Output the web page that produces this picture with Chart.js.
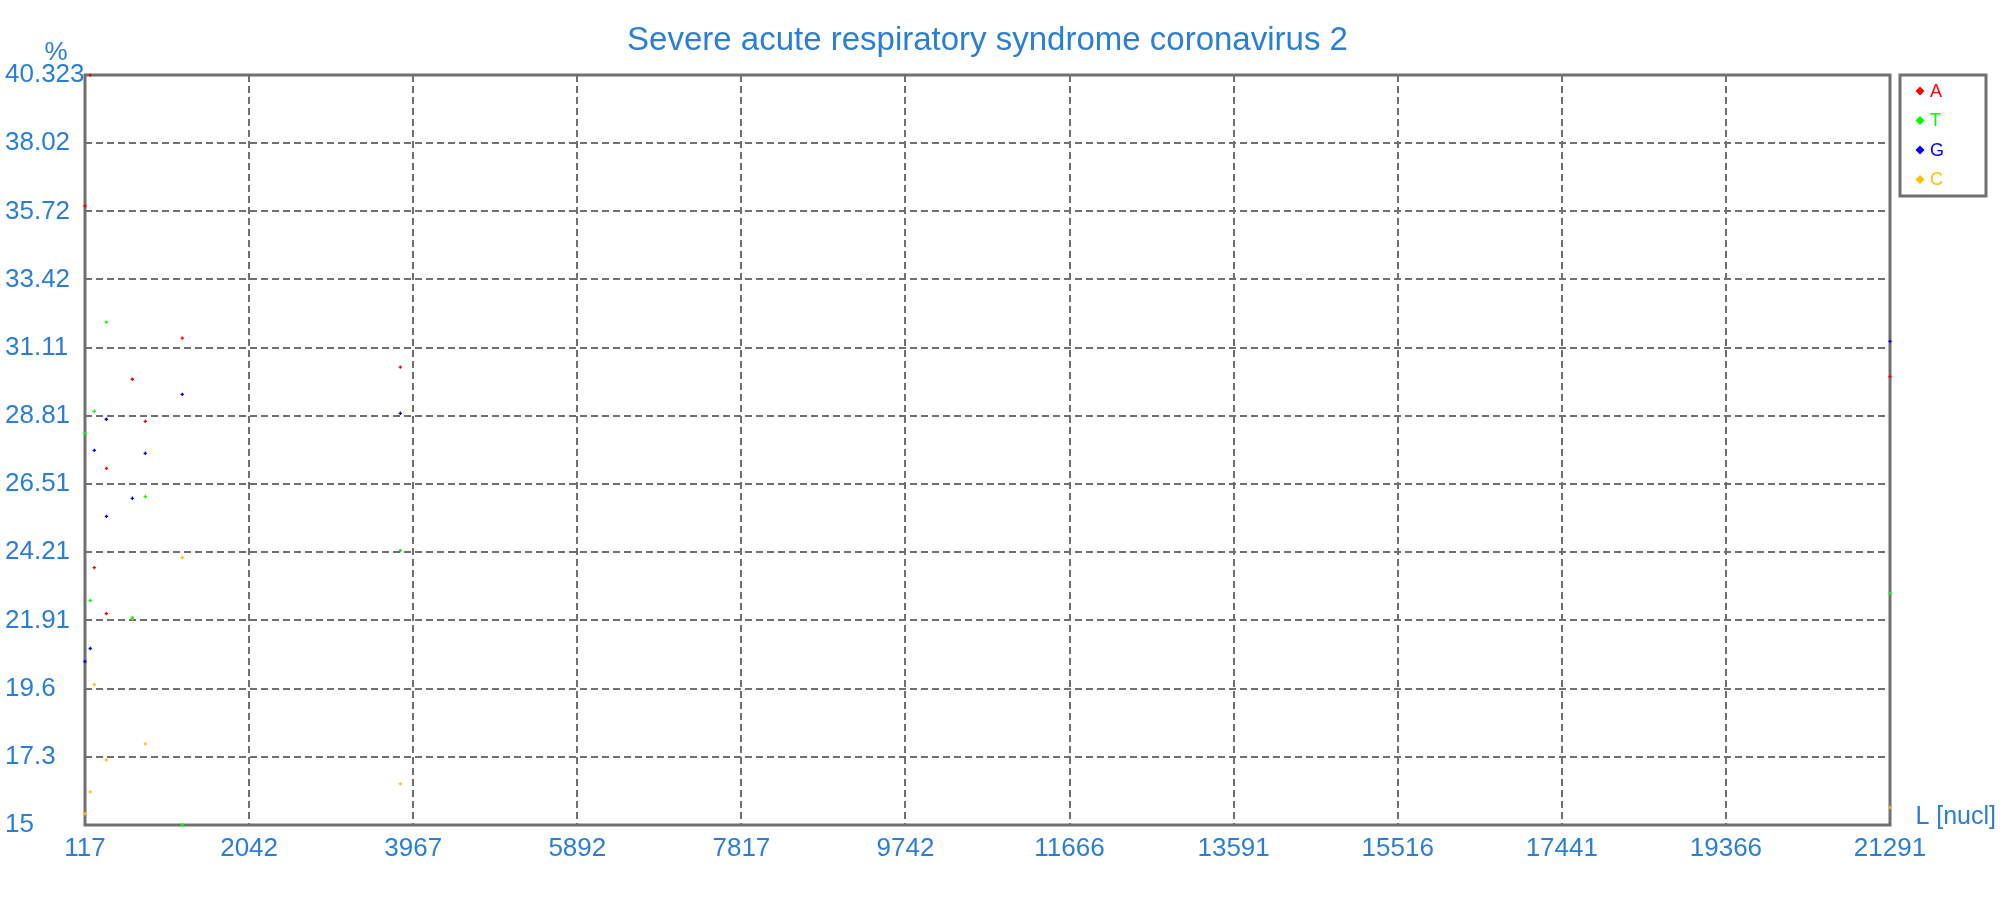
<!DOCTYPE html>
<html>
<head>
<meta charset="utf-8">
<script src="https://cdn.jsdelivr.net/npm/chart.js@4/dist/chart.umd.min.js"></script>
<style>
html,body{margin:0;padding:0;background:#fff;}
#wrap{position:relative;width:2000px;height:900px;}
</style>
</head>
<body>
<div id="wrap"><canvas id="c" width="2000" height="900"></canvas></div>
<script>
const titleText = 'Severe acute respiratory syndrome coronavirus 2';
const yUnit = '%';
const xUnit = 'L [nucl]';
const seriesNames = ['A', 'T', 'G', 'C'];
const seriesColors = ['#ff0000', '#00ff00', '#0000ff', '#ffc000'];
const xTickLabels = ['117','2042','3967','5892','7817','9742','11666','13591','15516','17441','19366','21291'];
const yTickLabels = ['15','17.3','19.6','21.91','24.21','26.51','28.81','31.11','33.42','35.72','38.02','40.323'];

const posA = [117, 179, 226, 367, 369, 672, 824, 1258, 3816, 21291];
const valA = [35.90, 40.32, 23.69, 22.14, 27.04, 30.05, 28.63, 31.44, 30.46, 30.14];
const posT = [117, 179, 226, 367, 672, 824, 1258, 3816, 21291];
const valT = [28.22, 22.58, 28.97, 31.98, 22.00, 26.09, 15.00, 24.27, 22.82];
const posG = [117, 179, 226, 367, 369, 672, 824, 1258, 3816, 21291];
const valG = [20.52, 20.96, 27.65, 28.70, 25.42, 26.03, 27.55, 29.54, 28.90, 31.33];
const posC = [117, 179, 226, 367, 672, 824, 1258, 3816, 21291];
const valC = [15.38, 16.12, 19.74, 17.20, 21.97, 17.74, 24.03, 16.39, 15.59];

const TXT = '#2a7fd5';
const GREY = '#707070';
const FONT = "'Liberation Sans', Arial, sans-serif";

function pts(xs, ys) { return xs.map((x, i) => ({x: x, y: ys[i]})); }
const allPos = [posA, posT, posG, posC];
const allVal = [valA, valT, valG, valC];

const datasets = seriesNames.map((n, k) => ({
  label: n,
  data: pts(allPos[k], allVal[k]),
  pointStyle: 'cross',
  pointRadius: 1.7,
  pointBorderWidth: 1.3,
  borderColor: seriesColors[k],
  backgroundColor: seriesColors[k],
  showLine: false,
  clip: false
}));

const decor = {
  id: 'decor',
  beforeDatasetsDraw(chart) {
    const {ctx, chartArea: a} = chart;
    ctx.save();
    ctx.strokeStyle = GREY;
    ctx.lineWidth = 3;
    ctx.setLineDash([]);
    ctx.strokeRect(a.left, a.top, a.right - a.left, a.bottom - a.top);
    ctx.restore();
  },
  afterDraw(chart) {
    const {ctx} = chart;
    ctx.save();
    ctx.fillStyle = TXT;
    ctx.font = '26px ' + FONT;
    ctx.textAlign = 'center';
    ctx.textBaseline = 'alphabetic';
    ctx.fillText(yUnit, 56, 60);
    ctx.font = '25px ' + FONT;
    ctx.textAlign = 'right';
    ctx.fillText(xUnit, 1996, 824);
    // legend
    const bx = 1900, by = 75, bw = 86, bh = 121;
    ctx.strokeStyle = GREY;
    ctx.lineWidth = 3;
    ctx.strokeRect(bx, by, bw, bh);
    ctx.font = '18px ' + FONT;
    ctx.textAlign = 'left';
    ctx.textBaseline = 'middle';
    seriesNames.forEach((n, i) => {
      const cy = 91 + i * 29.5;
      ctx.fillStyle = seriesColors[i];
      ctx.beginPath();
      ctx.moveTo(1920, cy - 4.5);
      ctx.lineTo(1924.5, cy);
      ctx.lineTo(1920, cy + 4.5);
      ctx.lineTo(1915.5, cy);
      ctx.closePath();
      ctx.fill();
      ctx.fillText(n, 1930, cy + 1);
    });
    ctx.restore();
  }
};

new Chart(document.getElementById('c'), {
  type: 'scatter',
  data: {datasets: datasets},
  plugins: [decor],
  options: {
    responsive: false,
    animation: false,
    events: [],
    layout: {padding: {left: 5, right: 110, top: 0, bottom: 0}},
    plugins: {
      legend: {display: false},
      tooltip: {enabled: false},
      title: {
        display: true,
        text: titleText,
        color: TXT,
        fullSize: false,
        font: {family: FONT, size: 33, weight: 'normal', lineHeight: 1.2},
        padding: {top: 21, bottom: 14.4}
      }
    },
    scales: {
      x: {
        type: 'linear',
        min: 117, max: 21291,
        afterFit(s) { s.height = 75; },
        afterBuildTicks(s) { s.ticks = xTickLabels.map(v => ({value: parseFloat(v)})); },
        ticks: {
          autoSkip: false, maxRotation: 0, minRotation: 0,
          color: TXT, padding: 8,
          font: {family: FONT, size: 26, lineHeight: 1.2},
          callback: (v, i) => xTickLabels[i]
        },
        grid: {color: GREY, lineWidth: 2, drawTicks: false, borderDash: [7, 4]},
        border: {display: false, dash: [7, 4]}
      },
      y: {
        type: 'linear',
        min: 15, max: 40.323,
        afterFit(s) { s.width = 80; },
        afterBuildTicks(s) { s.ticks = yTickLabels.map(v => ({value: parseFloat(v)})); },
        ticks: {
          autoSkip: false, crossAlign: 'far',
          color: TXT, padding: 4,
          font: {family: FONT, size: 26, lineHeight: 1.2},
          callback: (v, i) => yTickLabels[i]
        },
        grid: {color: GREY, lineWidth: 2, drawTicks: false, borderDash: [7, 4]},
        border: {display: false, dash: [7, 4]}
      }
    }
  }
});
</script>
</body>
</html>
